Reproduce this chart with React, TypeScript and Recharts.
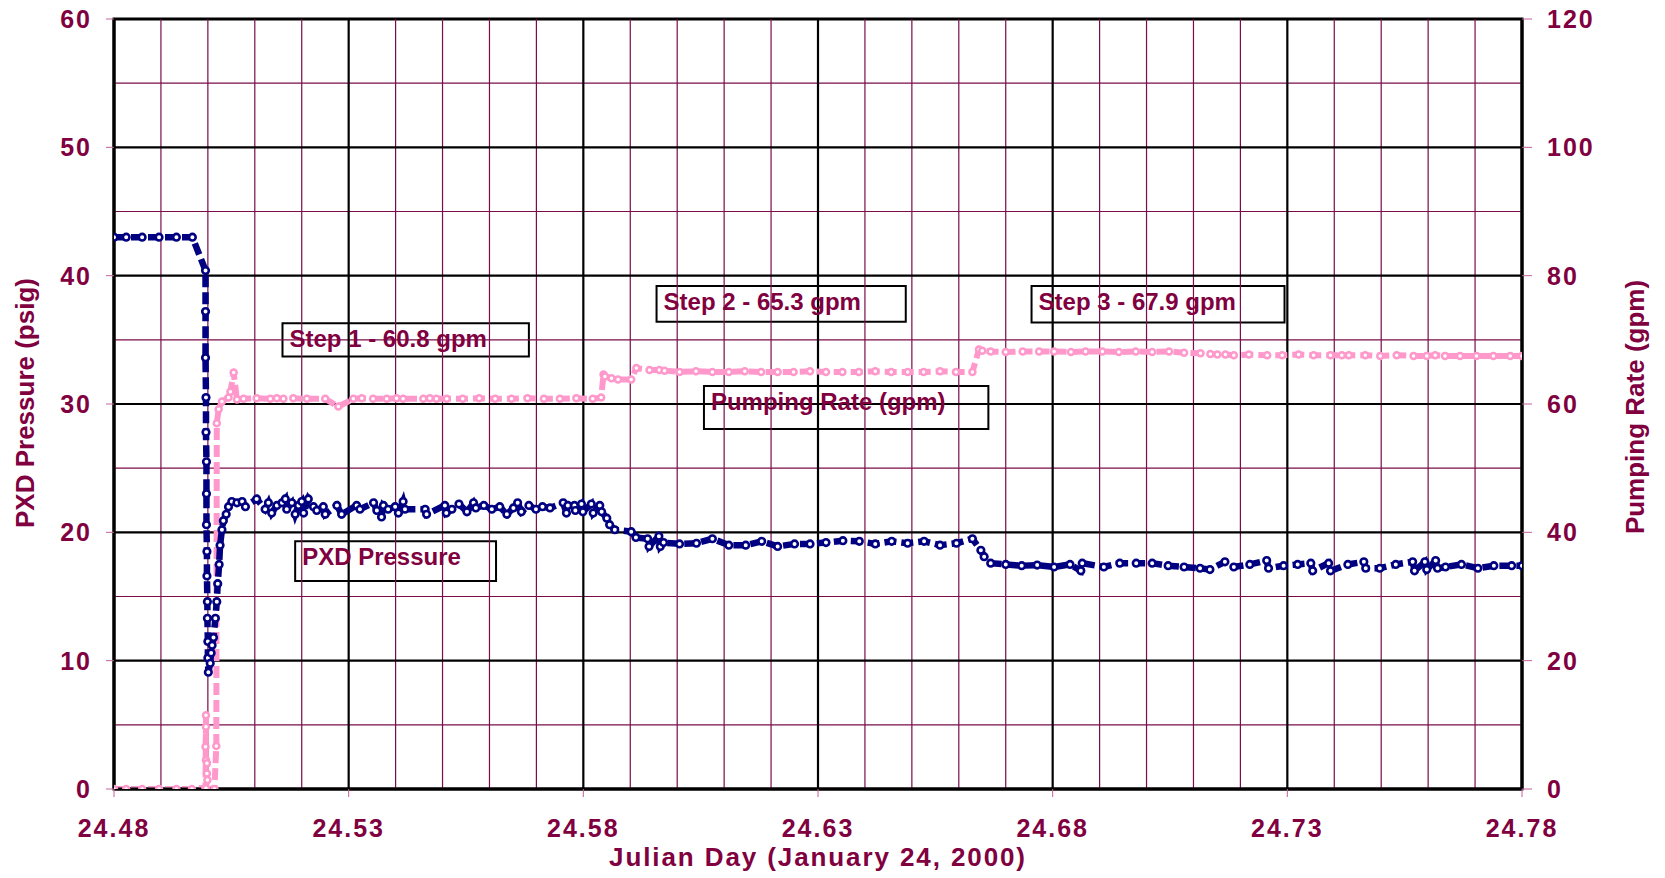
import React from "react";
import {
    ComposedChart,
    Line,
    XAxis,
    YAxis,
    ReferenceLine,
    ReferenceArea,
} from "recharts";

// PXD pressure (psig) vs Julian day
const pxdDay = [
    24.48, 24.4826, 24.486, 24.4896, 24.4933, 24.4967,
    24.4995, 24.4995, 24.4995, 24.4996, 24.4996, 24.4997, 24.4997, 24.4997, 24.4998, 24.4998,
    24.4999, 24.4999, 24.5, 24.5, 24.5001,
    24.5005, 24.5007, 24.5009, 24.5012, 24.5016, 24.5019, 24.5021, 24.5024, 24.5026, 24.503,
    24.5033, 24.5039, 24.5044, 24.5051,
    24.5062, 24.5073, 24.508, 24.5104, 24.5122, 24.5129, 24.5136, 24.5147, 24.5158, 24.5165,
    24.5168, 24.5179, 24.5186, 24.5193, 24.52, 24.5204, 24.5214, 24.5225, 24.5232, 24.5246,
    24.525, 24.5275, 24.5285, 24.5317, 24.5324, 24.5353, 24.536, 24.537, 24.5374, 24.5384,
    24.5399, 24.5406, 24.5416, 24.542, 24.5463, 24.5466, 24.5505, 24.5508,
    24.552, 24.5535, 24.5552, 24.5566, 24.5571, 24.5588, 24.5605, 24.5622, 24.5637, 24.5651,
    24.566, 24.5668, 24.5684, 24.5699, 24.5713, 24.5729, 24.5757, 24.5764, 24.5767, 24.5781,
    24.5783, 24.5796, 24.5799, 24.5817, 24.5821, 24.5835, 24.5839,
    24.585, 24.5856, 24.5867, 24.5902, 24.5912, 24.5937, 24.594, 24.5961, 24.5964, 24.5971,
    24.6005, 24.6041, 24.6075, 24.611, 24.6146, 24.618, 24.6214, 24.625, 24.6283, 24.6317,
    24.6353, 24.6388, 24.6422, 24.6457, 24.6491, 24.6526, 24.656, 24.6595, 24.6629,
    24.6647, 24.6654, 24.6668, 24.67, 24.6734, 24.6767,
    24.6803, 24.6837, 24.686, 24.6863, 24.6909, 24.6943, 24.6978, 24.7012, 24.7046, 24.708,
    24.7114, 24.7135, 24.7167, 24.7186, 24.722, 24.7256, 24.726, 24.7292, 24.7322, 24.735,
    24.7354, 24.7388, 24.7392, 24.7429, 24.7463, 24.7467, 24.7497, 24.7531, 24.7567, 24.7571,
    24.7593, 24.7597, 24.7616, 24.762, 24.7637, 24.7671, 24.7706, 24.774, 24.7778, 24.78,
];
const pxdPsig = [
    43.0, 43.0, 43.0, 43.0, 43.0, 43.0,
    40.4, 37.2, 33.6, 30.5, 27.8, 25.5, 23.0, 20.6, 18.5, 16.6,
    14.6, 13.3, 11.5, 10.2, 9.1,
    9.8, 10.6, 11.2, 11.8, 13.3, 14.6, 16.0, 17.5, 19.0, 20.2,
    20.9, 21.4, 22.0, 22.4,
    22.3, 22.4, 22.0, 22.6, 21.8, 22.3, 21.5, 22.1, 22.3, 22.6,
    21.8, 22.3, 21.4, 22.1, 22.4, 21.5, 22.6, 22.0, 21.7, 22.0,
    21.4, 22.1, 21.4, 22.1, 21.8, 22.3, 21.7, 21.2, 22.1, 21.8,
    22.0, 21.5, 22.4, 21.8, 21.8, 21.4, 22.1, 21.5,
    21.8, 22.2, 21.6, 22.3, 21.9, 22.1, 21.8, 22.0, 21.4, 21.9,
    22.3, 21.6, 22.1, 21.8, 22.0, 21.9, 22.3, 21.5, 22.1, 22.1,
    21.7, 22.2, 21.6, 22.2, 21.5, 22.1, 21.6,
    21.1, 20.6, 20.2, 20.05, 19.6, 19.5, 18.9, 19.7, 18.9, 19.2,
    19.1, 19.15, 19.5, 19.0, 19.0, 19.3, 18.9, 19.1, 19.1, 19.2,
    19.35, 19.3, 19.1, 19.3, 19.15, 19.3, 19.0, 19.15, 19.5,
    18.6, 18.1, 17.6, 17.5, 17.4, 17.45,
    17.3, 17.5, 17.0, 17.6, 17.3, 17.6, 17.6, 17.6, 17.4, 17.3,
    17.2, 17.1, 17.7, 17.3, 17.5, 17.8, 17.2, 17.4, 17.5, 17.6,
    17.0, 17.6, 17.0, 17.5, 17.7, 17.2, 17.2, 17.5, 17.7, 17.0,
    17.7, 17.1, 17.8, 17.2, 17.3, 17.5, 17.2, 17.4, 17.4, 17.4,
];

// pumping rate (gpm) vs Julian day
const rateDay = [
    24.48, 24.4826, 24.486, 24.4896, 24.4933, 24.4966,
    24.4995, 24.4996, 24.4996, 24.4995, 24.4996, 24.4998, 24.4998, 24.4999, 24.4996,
    24.5014, 24.5018, 24.5019, 24.5023, 24.503, 24.5044, 24.5048, 24.5055, 24.5062,
    24.5076, 24.5104, 24.5133, 24.5147, 24.5161, 24.5182, 24.5211, 24.525, 24.5278, 24.531,
    24.5328, 24.5352, 24.5381, 24.5402, 24.5416, 24.5459, 24.5473, 24.5487, 24.5509, 24.5543,
    24.5578, 24.5612, 24.5647, 24.5681, 24.5716, 24.575, 24.5785, 24.582, 24.5838,
    24.5843, 24.5846, 24.586, 24.5874, 24.5902, 24.5913, 24.5941, 24.5962, 24.5973, 24.6005,
    24.604, 24.6075, 24.611, 24.6144, 24.6179, 24.6214, 24.6248, 24.6283, 24.6317, 24.6352,
    24.6387, 24.6422, 24.6456, 24.6491, 24.6525, 24.656, 24.6594, 24.6629,
    24.6643, 24.665, 24.6668, 24.67, 24.6736, 24.6771, 24.6803, 24.6839, 24.687, 24.6906,
    24.6941, 24.6977, 24.7012, 24.7048, 24.708, 24.7115, 24.7136, 24.7151, 24.7168, 24.7186,
    24.7218, 24.7257, 24.7289, 24.7324, 24.7356, 24.7392, 24.7416, 24.7431, 24.7466, 24.7498,
    24.7533, 24.7569, 24.7597, 24.7615, 24.7636, 24.7668, 24.7703, 24.7739, 24.7775, 24.78,
];
const rateGpm = [
    0, 0, 0, 0, 0, 0,
    0.2, 11.5, 9.7, 6.6, 4.5, 4.0, 2.4, 1.4, 0.1,
    0, 6.7, 57.0, 59.2, 60.4, 61.0, 61.9, 64.9, 60.7,
    60.8, 60.9, 60.8, 60.9, 60.8, 60.9, 60.8, 60.8, 59.6, 60.8,
    60.9, 60.8, 60.8, 60.9, 60.8, 60.8, 60.9, 60.8, 60.8, 60.8,
    60.9, 60.8, 60.8, 60.9, 60.8, 60.8, 60.9, 60.8, 61.0,
    64.6, 64.3, 64.0, 63.8, 63.8, 65.6, 65.3, 65.3, 65.2, 65.0,
    65.1, 65.0, 65.0, 65.1, 65.0, 65.0, 65.0, 65.1, 65.0, 65.0,
    65.0, 65.1, 65.0, 65.0, 65.0, 65.1, 65.0, 65.0,
    68.5, 68.3, 68.2, 68.1, 68.2, 68.2, 68.2, 68.1, 68.2, 68.2,
    68.1, 68.2, 68.1, 68.2, 68.0, 67.9, 67.8, 67.7, 67.7, 67.6,
    67.7, 67.6, 67.6, 67.7, 67.6, 67.6, 67.6, 67.6, 67.6, 67.5,
    67.6, 67.5, 67.5, 67.6, 67.5, 67.5, 67.5, 67.5, 67.5, 67.5,
];

const dayTicks = [24.48, 24.53, 24.58, 24.63, 24.68, 24.73, 24.78];
const psigTicks = [0, 10, 20, 30, 40, 50, 60];
const gpmTicks = [0, 20, 40, 60, 80, 100, 120];

const minorDays = [
    24.49, 24.5, 24.51, 24.52, 24.54, 24.55, 24.56, 24.57, 24.59, 24.6, 24.61, 24.62,
    24.64, 24.65, 24.66, 24.67, 24.69, 24.7, 24.71, 24.72, 24.74, 24.75, 24.76, 24.77,
];
const majorDays = [24.53, 24.58, 24.63, 24.68, 24.73];
const minorPsig = [5, 15, 25, 35, 45, 55];
const majorPsig = [10, 20, 30, 40, 50];

// text boxes, in chart units (day, psig)
const notes = [
    { text: "Step 1 - 60.8 gpm", x1: 24.5159, x2: 24.5684, y1: 33.7, y2: 36.3 },
    { text: "Step 2 - 65.3 gpm", x1: 24.5956, x2: 24.6487, y1: 36.4, y2: 39.2 },
    { text: "Step 3 - 67.9 gpm", x1: 24.6755, x2: 24.7294, y1: 36.35, y2: 39.2 },
    { text: "Pumping Rate (gpm)", x1: 24.6057, x2: 24.6663, y1: 28.05, y2: 31.4 },
    { text: "PXD Pressure", x1: 24.5186, x2: 24.5614, y1: 16.2, y2: 19.3 },
];

const pxdData = pxdDay.map((x, i) => ({ x, y: pxdPsig[i] }));
const rateData = rateDay.map((x, i) => ({ x, y: rateGpm[i] }));

const MAROON = "#800040";
const GRID = "#7a0c4a";
const TICK = "#c0609a";
const NAVY = "#000080";
const PINK = "#ff99cc";
const FONT = "'Liberation Sans', Arial, Helvetica, sans-serif";

const DayTick = (props: any) => (
    <text
        x={props.x}
        y={props.y}
        dy={38}
        textAnchor="middle"
        fill={MAROON}
        fontSize={25}
        fontWeight={700}
        fontFamily={FONT}
        letterSpacing={2}
    >
        {Number(props.payload.value).toFixed(2)}
    </text>
);

const LeftTick = (props: any) => (
    <text
        x={props.x}
        y={props.y}
        dx={-12}
        dy={9}
        textAnchor="end"
        fill={MAROON}
        fontSize={25}
        fontWeight={700}
        fontFamily={FONT}
        letterSpacing={2}
    >
        {props.payload.value}
    </text>
);

const RightTick = (props: any) => (
    <text
        x={props.x}
        y={props.y}
        dx={13}
        dy={9}
        textAnchor="start"
        fill={MAROON}
        fontSize={25}
        fontWeight={700}
        fontFamily={FONT}
        letterSpacing={2}
    >
        {props.payload.value}
    </text>
);

const title = (left: number, top: number, deg: number, spacing: number): React.CSSProperties => ({
    position: "absolute",
    left,
    top,
    transform: `translate(-50%, -50%) rotate(${deg}deg)`,
    whiteSpace: "nowrap",
    fontFamily: FONT,
    fontSize: 26,
    fontWeight: 700,
    lineHeight: 1,
    letterSpacing: spacing,
    color: MAROON,
});

export default function App() {
    return (
        <div style={{ position: "absolute", left: 0, top: 0, width: 1665, height: 878, background: "#fff" }}>
            <ComposedChart width={1665} height={878} margin={{ top: 19, right: 0, bottom: 0, left: 0 }}>
                <XAxis
                    dataKey="x"
                    type="number"
                    domain={[24.48, 24.78]}
                    ticks={dayTicks}
                    interval={0}
                    allowDataOverflow
                    height={89}
                    tickSize={8}
                    axisLine={{ stroke: "#000", strokeWidth: 3 }}
                    tickLine={{ stroke: TICK }}
                    tick={<DayTick />}
                />
                <YAxis
                    yAxisId="psig"
                    orientation="left"
                    type="number"
                    domain={[0, 60]}
                    ticks={psigTicks}
                    interval={0}
                    allowDataOverflow
                    width={114}
                    tickSize={8}
                    axisLine={{ stroke: "#000", strokeWidth: 3 }}
                    tickLine={{ stroke: TICK }}
                    tick={<LeftTick />}
                />
                <YAxis
                    yAxisId="gpm"
                    orientation="right"
                    type="number"
                    domain={[0, 120]}
                    ticks={gpmTicks}
                    interval={0}
                    allowDataOverflow
                    width={143}
                    tickSize={10}
                    axisLine={{ stroke: "#000", strokeWidth: 3 }}
                    tickLine={{ stroke: TICK }}
                    tick={<RightTick />}
                />

                {/* minor grid */}
                {minorDays.map((d) => (
                    <ReferenceLine key={"md" + d} x={d} yAxisId="psig" stroke={GRID} strokeWidth={1.2} />
                ))}
                {minorPsig.map((p) => (
                    <ReferenceLine key={"mp" + p} y={p} yAxisId="psig" stroke={GRID} strokeWidth={1.2} />
                ))}
                {/* major grid */}
                {majorDays.map((d) => (
                    <ReferenceLine key={"Md" + d} x={d} yAxisId="psig" stroke="#000" strokeWidth={2.2} />
                ))}
                {majorPsig.map((p) => (
                    <ReferenceLine key={"Mp" + p} y={p} yAxisId="psig" stroke="#000" strokeWidth={2.2} />
                ))}
                <ReferenceArea
                    yAxisId="psig"
                    x1={24.48}
                    x2={24.78}
                    y1={0}
                    y2={60}
                    fill="none"
                    stroke="#000"
                    strokeWidth={3}
                />

                {notes.map((n) => (
                    <ReferenceArea
                        key={n.text}
                        yAxisId="psig"
                        x1={n.x1}
                        x2={n.x2}
                        y1={n.y1}
                        y2={n.y2}
                        fill="#fff"
                        fillOpacity={1}
                        stroke="#000"
                        strokeWidth={2}
                        label={{
                            value: n.text,
                            position: "insideTopLeft",
                            offset: 7,
                            fill: MAROON,
                            fontSize: 24,
                            fontWeight: 700,
                            fontFamily: FONT,
                        }}
                    />
                ))}

                <Line
                    yAxisId="gpm"
                    data={rateData}
                    dataKey="y"
                    type="linear"
                    stroke={PINK}
                    strokeWidth={6}
                    strokeDasharray="12 5"
                    dot={{ r: 3, fill: "#fff", stroke: PINK, strokeWidth: 2.5, strokeDasharray: "none" }}
                    activeDot={false}
                    isAnimationActive={false}
                />
                <Line
                    yAxisId="psig"
                    data={pxdData}
                    dataKey="y"
                    type="linear"
                    stroke={NAVY}
                    strokeWidth={6.5}
                    strokeDasharray="12 5"
                    dot={{ r: 3.3, fill: "#fff", stroke: NAVY, strokeWidth: 2.6, strokeDasharray: "none" }}
                    activeDot={false}
                    isAnimationActive={false}
                />
            </ComposedChart>

            <div style={title(25, 403, -90, 0)}>PXD Pressure (psig)</div>
            <div style={title(1635, 407, -90, 0)}>Pumping Rate (gpm)</div>
            <div style={title(818, 857, 0, 1.9)}>Julian Day (January 24, 2000)</div>
        </div>
    );
}
